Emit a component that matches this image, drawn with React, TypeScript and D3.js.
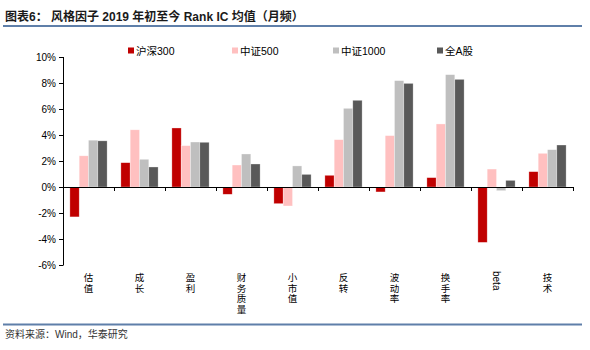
import React from "react";
import * as d3 from "d3";

const categories = ["估值", "成长", "盈利", "财务质量", "小市值", "反转", "波动率", "换手率", "beta", "技术"];
const seriesNames = ["沪深300", "中证500", "中证1000", "全A股"];
const hs300 = [-2.3, 1.87, 4.54, -0.56, -1.28, 0.9, -0.38, 0.72, -4.26, 1.18];
const zz500 = [2.4, 4.4, 3.18, 1.69, -1.46, 3.64, 3.95, 4.85, 1.38, 2.59];
const zz1000 = [3.6, 2.13, 3.46, 2.54, 1.62, 6.05, 8.18, 8.64, -0.28, 2.87];
const allA = [3.55, 1.54, 3.44, 1.77, 0.97, 6.67, 7.97, 8.28, 0.51, 3.23];
const yTicks = [-6, -4, -2, 0, 2, 4, 6, 8, 10];
const colors = ["#C00000", "#FFC0C0", "#BFBFBF", "#595959"];

const W = 590;
const H = 350;
const latin = "'Liberation Sans', Arial, sans-serif";
const cjk = "'Liberation Sans', 'Noto Sans CJK SC', sans-serif";

export default function App() {
  const series = [hs300, zz500, zz1000, allA];
  const x = d3.scaleBand<string>().domain(categories).range([63, 573]).paddingInner(0).paddingOuter(0);
  const inner = d3.scaleBand<number>().domain([0, 1, 2, 3]).range([0, x.bandwidth()]).paddingInner(0).paddingOuter(0.74);
  const y = d3.scaleLinear().domain([-6, 10]).range([265, 57]);
  const y0 = y(0);

  return (
    <svg width={W} height={H} style={{ position: "absolute", left: 0, top: 0, background: "#fff" }}>
      <text x={5} y={21} fontFamily={cjk} fontSize={12} fontWeight="bold" fill="#1a1a1a">
        图表6：  风格因子 2019 年初至今 Rank IC 均值（月频）
      </text>
      <line x1={3} x2={582} y1={26} y2={26} stroke="#5F7FA9" strokeWidth={2} />

      {seriesNames.map((n, i) => {
        const lx = [128, 232, 333, 437][i];
        return (
          <g key={n}>
            <rect x={lx} y={47.5} width={6} height={6} fill={colors[i]} />
            <text x={lx + 8} y={54.5} fontFamily={cjk} fontSize={10.5} fill="#000">{n}</text>
          </g>
        );
      })}

      {/* y axis */}
      <line x1={63.5} x2={63.5} y1={y(10)} y2={y(-6)} stroke="#000" strokeWidth={1} />
      {yTicks.map((t) => (
        <g key={t}>
          <line x1={59} x2={63.5} y1={Math.round(y(t)) + 0.5} y2={Math.round(y(t)) + 0.5} stroke="#000" />
          <text x={56} y={y(t) + 3.5} textAnchor="end" fontFamily={latin} fontSize={10} fill="#000">{t}%</text>
        </g>
      ))}

      {/* bars */}
      {categories.map((c, ci) =>
        series.map((s, si) => {
          const v = s[ci];
          const bx = (x(c) as number) + (inner(si) as number);
          const top = Math.min(y(v), y0);
          const h = Math.abs(y(v) - y0);
          return (
            <rect key={c + si} x={bx} y={top} width={inner.bandwidth()} height={h} fill={colors[si]}
              stroke="#ffffff" strokeOpacity={0.5} strokeWidth={0.6} />
          );
        })
      )}

      {/* x axis */}
      <line x1={63} x2={574} y1={Math.round(y0) + 0.5} y2={Math.round(y0) + 0.5} stroke="#000" strokeWidth={1.2} />
      {categories.map((c, i) => (
        <line key={"t" + i} x1={Math.round((x(c) as number)) + 0.5} x2={Math.round((x(c) as number)) + 0.5}
          y1={y0} y2={y0 + 4} stroke="#000" />
      ))}
      <line x1={573.5} x2={573.5} y1={y0} y2={y0 + 4} stroke="#000" />

      {categories.map((c) => {
        const cx = (x(c) as number) + x.bandwidth() / 2;
        if (/^[a-z]+$/i.test(c)) {
          return (
            <text key={c} transform={`translate(${cx - 3.5},271) rotate(90)`} fontFamily={latin} fontSize={10} fill="#000">
              {c}
            </text>
          );
        }
        return (
          <text key={c} fontFamily={cjk} fontSize={9.5} fill="#000" textAnchor="middle">
            {c.split("").map((ch, k) => (
              <tspan key={k} x={cx} y={281 + k * 10.5}>{ch}</tspan>
            ))}
          </text>
        );
      })}

      <line x1={3} x2={582} y1={324.5} y2={324.5} stroke="#5F7FA9" strokeWidth={2} />
      <text x={5} y={338} fontFamily={cjk} fontSize={10} fill="#333">资料来源：Wind，华泰研究</text>
    </svg>
  );
}
